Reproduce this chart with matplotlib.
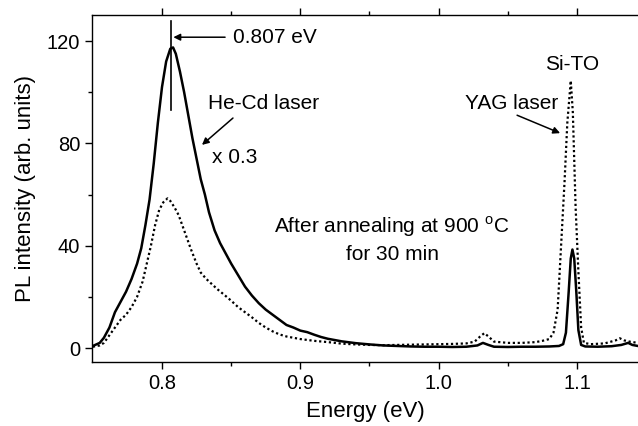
import matplotlib
matplotlib.use("Agg")
import matplotlib.pyplot as plt

plt.rcParams['font.family'] = ['Liberation Sans', 'DejaVu Sans']
plt.rcParams['mathtext.fontset'] = 'custom'
plt.rcParams['mathtext.rm'] = 'Liberation Sans'

# He-Cd laser spectrum (x 0.3), solid line
hecd_energy = [0.750, 0.755, 0.758, 0.762, 0.766, 0.770, 0.774, 0.778, 0.782, 0.785,
               0.788, 0.791, 0.794, 0.797, 0.800, 0.803, 0.806, 0.808, 0.810, 0.813,
               0.816, 0.819, 0.822, 0.825, 0.828, 0.831, 0.834, 0.838, 0.842, 0.846,
               0.850, 0.855, 0.860, 0.865, 0.870, 0.875, 0.880, 0.885, 0.890, 0.895,
               0.900, 0.905, 0.910, 0.915, 0.920, 0.930, 0.940, 0.950, 0.960, 0.970,
               0.980, 0.990, 1.000, 1.010, 1.020, 1.028, 1.032, 1.036, 1.040, 1.050,
               1.060, 1.070, 1.080, 1.087, 1.090, 1.092, 1.094, 1.0955, 1.0967, 1.098,
               1.0995, 1.101, 1.103, 1.106, 1.115, 1.125, 1.132, 1.137, 1.140, 1.144]
hecd_intensity = [0.8, 2.0, 4.0, 8.0, 14.0, 18.0, 22.0, 27.0, 33.0, 39.0,
                  48.0, 58.0, 72.0, 88.0, 102.0, 112.0, 117.0, 117.5, 115.0, 108.0,
                  100.0, 91.0, 82.0, 74.0, 66.0, 60.0, 53.0, 46.0, 41.0, 37.0,
                  33.0, 28.5, 24.0, 20.5, 17.5, 15.0, 13.0, 11.0, 9.0, 8.0,
                  6.8, 6.2, 5.2, 4.3, 3.6, 2.6, 1.9, 1.4, 1.0, 0.8,
                  0.6, 0.5, 0.5, 0.4, 0.5, 1.0, 2.0, 1.2, 0.5, 0.4,
                  0.5, 0.5, 0.6, 0.8, 1.5, 6.0, 22.0, 35.0, 38.5, 35.0,
                  22.0, 7.0, 1.2, 0.6, 0.5, 0.7, 1.2, 2.0, 1.2, 0.8]

# YAG laser spectrum, dotted line
yag_energy = [0.750, 0.755, 0.758, 0.762, 0.766, 0.770, 0.774, 0.778, 0.782, 0.786,
              0.789, 0.792, 0.795, 0.798, 0.801, 0.804, 0.806, 0.809, 0.812, 0.815,
              0.818, 0.821, 0.825, 0.828, 0.832, 0.836, 0.840, 0.845, 0.850, 0.855,
              0.860, 0.865, 0.870, 0.875, 0.880, 0.885, 0.890, 0.895, 0.900, 0.910,
              0.920, 0.930, 0.940, 0.950, 0.960, 0.970, 0.980, 0.990, 1.000, 1.010,
              1.020, 1.026, 1.030, 1.033, 1.036, 1.040, 1.050, 1.060, 1.070, 1.075,
              1.080, 1.083, 1.086, 1.089, 1.091, 1.093, 1.0955, 1.097, 1.099, 1.101,
              1.103, 1.105, 1.110, 1.120, 1.128, 1.131, 1.134, 1.138, 1.144]
yag_intensity = [0.5, 1.0, 2.0, 5.0, 8.0, 11.0, 13.0, 16.0, 20.0, 26.0,
                 33.0, 40.0, 48.0, 54.0, 57.0, 58.5, 57.5, 55.0, 52.0, 47.5,
                 43.0, 38.5, 33.0, 29.5, 27.0, 25.0, 23.0, 20.8, 18.5, 16.0,
                 14.0, 12.0, 9.8, 8.0, 6.5, 5.3, 4.5, 4.0, 3.5, 2.8,
                 2.3, 1.7, 1.4, 1.2, 1.1, 1.2, 1.3, 1.4, 1.5, 1.6,
                 1.8, 2.5, 4.5, 5.8, 4.5, 2.5, 2.0, 2.0, 2.3, 2.8,
                 3.5, 6.0, 15.0, 45.0, 65.0, 88.0, 104.5, 92.0, 55.0, 30.0,
                 8.0, 2.0, 1.5, 1.8, 3.0, 3.8, 3.0, 2.5, 2.0]

peak_energy = 0.807
x_ticks = [0.8, 0.9, 1.0, 1.1]
x_tick_labels = ["0.8", "0.9", "1.0", "1.1"]
y_ticks = [0, 40, 80, 120]
y_tick_labels = ["0", "40", "80", "120"]

fig = plt.figure(figsize=(6.38, 4.26), dpi=100)
ax = fig.add_axes([92/638, 1 - 362/426, (638 - 92)/638, (362 - 14.7)/426])

ax.plot(hecd_energy, hecd_intensity, color='black', lw=1.8, solid_joinstyle='round')
ax.plot(yag_energy, yag_intensity, color='black', lw=1.6, linestyle=(0, (1, 1.2)))

ax.set_xlim(0.7494, 1.1441)
ax.set_ylim(-5.47, 130.3)

ax.set_xticks(x_ticks)
ax.set_xticklabels(x_tick_labels)
ax.set_xticks([0.85, 0.95, 1.05], minor=True)
ax.set_yticks(y_ticks)
ax.set_yticklabels(y_tick_labels)
ax.set_yticks([20, 60, 100], minor=True)

ax.spines['right'].set_visible(False)
for s in ['left', 'bottom', 'top']:
    ax.spines[s].set_linewidth(1.0)

ax.tick_params(which='both', direction='out', top=True, labeltop=False,
               right=False, width=1.0, labelsize=14.5)
ax.tick_params(which='major', length=5)
ax.tick_params(which='minor', length=3)

ax.set_xlabel("Energy (eV)", fontsize=16, labelpad=6)
ax.set_ylabel("PL intensity (arb. units)", fontsize=16, labelpad=8)

# Peak marker and annotations
ax.plot([peak_energy - 0.0005, peak_energy - 0.0005], [93, 128], color='black', lw=1.2)
ax.annotate("", xy=(0.8082, 121.5), xytext=(0.8456, 121.5),
            arrowprops=dict(arrowstyle='-|>', color='black', lw=1.1,
                            mutation_scale=10, shrinkA=0, shrinkB=0))
ax.text(0.8515, 121.5, f"{peak_energy:.3f} eV", fontsize=15, va='center', ha='left')

ax.text(0.8333, 95.7, "He-Cd laser", fontsize=15, va='center', ha='left')
ax.annotate("", xy=(0.8289, 79.4), xytext=(0.8513, 89.9),
            arrowprops=dict(arrowstyle='-|>', color='black', lw=1.1,
                            mutation_scale=10, shrinkA=0, shrinkB=0))
ax.text(0.836, 74.3, "x 0.3", fontsize=15, va='center', ha='left')

ax.text(0.9660, 47.6, "After annealing at 900 $^{\\mathrm{o}}$C", fontsize=15,
        va='center', ha='center')
ax.text(0.9665, 36.5, "for 30 min", fontsize=15, va='center', ha='center')

ax.text(1.0967, 111, "Si-TO", fontsize=15, va='center', ha='center')
ax.text(1.0524, 95.7, "YAG laser", fontsize=15, va='center', ha='center')
ax.annotate("", xy=(1.0878, 84), xytext=(1.0567, 91),
            arrowprops=dict(arrowstyle='-|>', color='black', lw=1.1,
                            mutation_scale=10, shrinkA=0, shrinkB=0))

fig.savefig("out.png", dpi=100)
